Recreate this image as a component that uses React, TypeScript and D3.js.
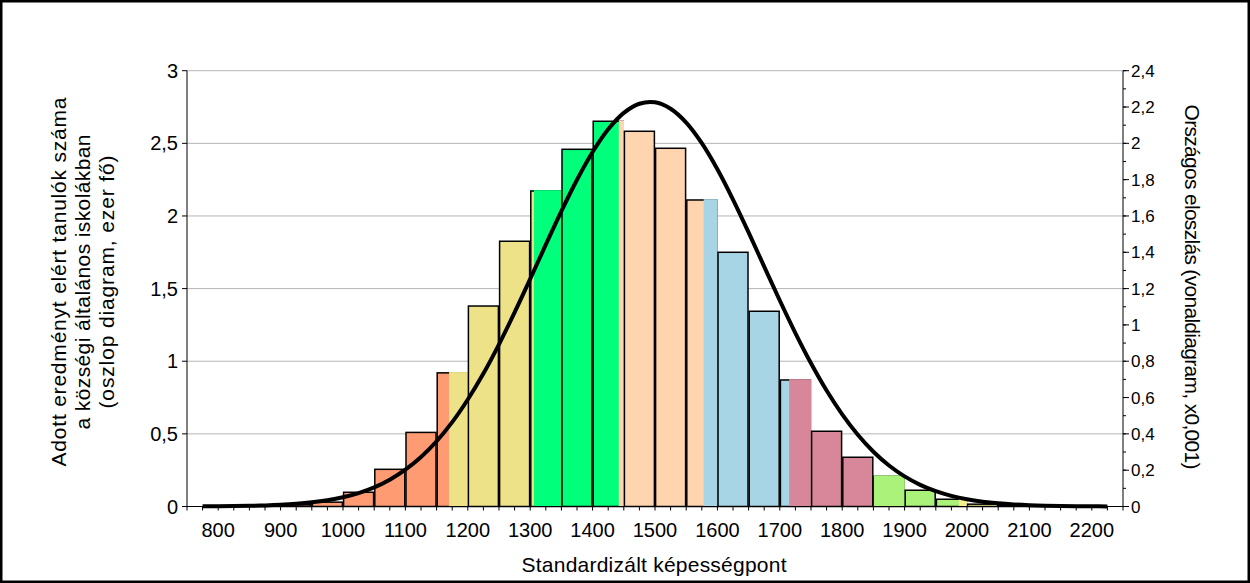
import React from 'react';
import * as d3 from 'd3';

// histogram bins (lower edge of each 50-point bin) and counts (thousand students)
const binStart = [800, 850, 900, 950, 1000, 1050, 1100, 1150, 1200, 1250, 1300, 1350, 1400, 1450,
  1500, 1550, 1600, 1650, 1700, 1750, 1800, 1850, 1900, 1950, 2000, 2050, 2100, 2150];
const binCount = [0.004, 0.006, 0.012, 0.03, 0.098, 0.256, 0.51, 0.92, 1.38, 1.826, 2.172, 2.459, 2.652, 2.583,
  2.466, 2.11, 1.75, 1.344, 0.871, 0.518, 0.339, 0.208, 0.112, 0.05, 0.016, 0.006, 0.003, 0.002];

// national distribution curve (x0,001)
const curveScore = [775, 800, 825, 850, 875, 900, 925, 950, 975, 1000, 1025, 1050, 1075, 1100, 1125, 1150,
  1175, 1200, 1225, 1250, 1275, 1300, 1325, 1350, 1375, 1400, 1425, 1450, 1475, 1500, 1525, 1550, 1575,
  1600, 1625, 1650, 1675, 1700, 1725, 1750, 1775, 1800, 1825, 1850, 1875, 1900, 1925, 1950, 1975, 2000,
  2025, 2050, 2075, 2100, 2125, 2150, 2175, 2200, 2225];
const curveValue = [0.0007, 0.0013, 0.0022, 0.0036, 0.0059, 0.0094, 0.0148, 0.0228, 0.0344, 0.051, 0.0741,
  0.1056, 0.1477, 0.2025, 0.2723, 0.3592, 0.4645, 0.5893, 0.7321, 0.8932, 1.0688, 1.2533, 1.4418, 1.6267,
  1.7996, 1.9524, 2.0774, 2.1676, 2.218, 2.2258, 2.1904, 2.1142, 2.001, 1.8573, 1.6906, 1.5093, 1.3212,
  1.1343, 0.9549, 0.7885, 0.6385, 0.5071, 0.3948, 0.3015, 0.2257, 0.1658, 0.1194, 0.0844, 0.0585, 0.0397,
  0.0265, 0.0173, 0.0111, 0.007, 0.0043, 0.0026, 0.0015, 0.0009, 0.0005];

// proficiency level boundaries and their colours
const levelEdges = [1170, 1306, 1442, 1578, 1715, 1851, 1987, 2123];
const levelColors = ['#FF9B73', '#EEE288', '#00FF7A', '#FFD5B0', '#A8D5E5', '#D8879A', '#ABF27A', '#F4EE8C', '#C8C8C8'];

const xLabels = [800, 900, 1000, 1100, 1200, 1300, 1400, 1500, 1600, 1700, 1800, 1900, 2000, 2100, 2200];
const leftTicks = [0, 0.5, 1, 1.5, 2, 2.5, 3];
const rightTicks = [0, 0.2, 0.4, 0.6, 0.8, 1, 1.2, 1.4, 1.6, 1.8, 2, 2.2, 2.4];

const W = 1250;
const H = 583;
const left = 187, right = 1123, top = 70.7, bottom = 506.5;
const font = 'Liberation Sans, Arial, sans-serif';

const x = d3.scaleLinear().domain([750, 2250]).range([left, right]);
const yL = d3.scaleLinear().domain([0, 3]).range([bottom, top]);
const yR = d3.scaleLinear().domain([0, 2.4]).range([bottom, top]);

const colorAt = (v: number) => levelColors[d3.bisectRight(levelEdges, v)];
const comma = (v: number) => String(v).replace('.', ',');

const App = () => {
  const line = d3.line<number>()
    .x((d, i) => x(curveScore[i]))
    .y((d) => yR(d))
    .curve(d3.curveCatmullRom);

  return (
    <svg width={W} height={H} style={{ position: 'absolute', left: 0, top: 0, background: '#fff' }}
      fontFamily={font}>
      <rect x={1.25} y={1.25} width={W - 2.5} height={H - 2.5} fill="#fff" stroke="#000" strokeWidth={2.5} />

      {/* grid */}
      {leftTicks.filter((t) => t > 0).map((t) => (
        <line key={'g' + t} x1={left} x2={right} y1={yL(t)} y2={yL(t)} stroke="#B4B4B4" strokeWidth={1} />
      ))}

      {/* bars */}
      {binStart.map((s, i) => {
        const x0 = x(s) + 0.6;
        const x1 = x(s + 50) - 0.6;
        const yt = yL(binCount[i]);
        const inner = levelEdges.filter((e) => e > s && e < s + 50);
        return (
          <g key={'b' + s}>
            <rect x={x0} y={yt} width={x1 - x0} height={bottom - yt}
              fill={colorAt(s)} stroke="#000" strokeWidth={1.5} />
            {inner.map((e) => (
              <rect key={e} x={x(e)} y={yt - 0.8} width={x1 - x(e) + 0.8} height={bottom - yt + 0.3}
                fill={colorAt(e)} />
            ))}
          </g>
        );
      })}

      {/* axes */}
      <line x1={left} x2={left} y1={top} y2={bottom} stroke="#000" />
      <line x1={right} x2={right} y1={top} y2={bottom} stroke="#000" />
      <line x1={left} x2={right} y1={bottom} y2={bottom} stroke="#000" />

      {d3.range(750, 2251, 25).map((v) => (
        <line key={'xt' + v} x1={x(v)} x2={x(v)} y1={bottom} y2={bottom + 4} stroke="#000" />
      ))}
      {xLabels.map((v) => (
        <text key={'xl' + v} x={x(v)} y={537} textAnchor="middle" fontSize={20} fill="#000">{v}</text>
      ))}

      {leftTicks.map((t) => (
        <g key={'lt' + t}>
          <line x1={left - 5} x2={left} y1={yL(t)} y2={yL(t)} stroke="#000" />
          <text x={left - 9} y={yL(t) + 7} textAnchor="end" fontSize={20} fill="#000">{comma(t)}</text>
        </g>
      ))}

      {d3.range(0, 2.41, 0.1).map((t) => (
        <line key={'rm' + t} x1={right} x2={right + 3} y1={yR(t)} y2={yR(t)} stroke="#000" />
      ))}
      {rightTicks.map((t) => (
        <g key={'rt' + t}>
          <line x1={right} x2={right + 6} y1={yR(t)} y2={yR(t)} stroke="#000" />
          <text x={right + 8} y={yR(t) + 6} fontSize={17} fill="#000">{comma(t)}</text>
        </g>
      ))}

      {/* national distribution */}
      <path d={line(curveValue) || ''} fill="none" stroke="#000" strokeWidth={4} />

      {/* titles */}
      <text x={654} y={572} textAnchor="middle" fontSize={21} textLength={265} lengthAdjust="spacing">
        Standardizált képességpont
      </text>
      <g transform="translate(0,282) rotate(-90)" fontSize={21} textAnchor="middle">
        <text x={0} y={66} textLength={369} lengthAdjust="spacing">Adott eredményt elért tanulók száma</text>
        <text x={0} y={90} textLength={295} lengthAdjust="spacing">a községi általános iskolákban</text>
        <text x={0} y={114} textLength={253} lengthAdjust="spacing">(oszlop diagram, ezer fő)</text>
      </g>
      <g transform="translate(1192,287) rotate(90)" fontSize={21} textAnchor="middle">
        <text x={0} y={0} dy="0.35em" textLength={365} lengthAdjust="spacing">
          Országos eloszlás (vonaldiagram, x0,001)
        </text>
      </g>
    </svg>
  );
};

export default App;
